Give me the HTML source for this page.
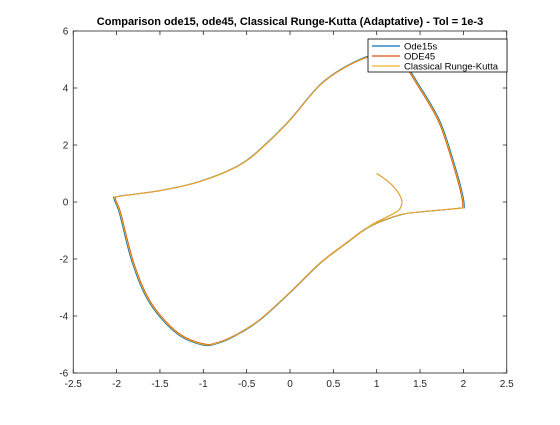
<!DOCTYPE html>
<html><head><meta charset="utf-8"><style>
body{margin:0;background:#fff;font-family:"Liberation Sans",sans-serif}
svg text{font-family:"Liberation Sans",sans-serif}
</style></head><body>
<svg id="chart" width="560" height="420" xmlns="http://www.w3.org/2000/svg">
<rect x="0" y="0" width="560" height="420" fill="#fff"/>
<text x="290" y="25" text-anchor="middle" font-size="11" font-weight="bold">Comparison ode15, ode45, Classical Runge-Kutta (Adaptative) - Tol = 1e-3</text>
<g id="plot"></g>
<g id="axes"></g>
<g>
<rect x="368" y="39" width="139" height="33" fill="#fff" stroke="#000" stroke-width="0.8"/>
<line x1="372" y1="46" x2="400" y2="46" stroke="#0072BD" stroke-width="1.2"/>
<text x="404" y="49.5" font-size="9.5">Ode15s</text>
<line x1="372" y1="56" x2="400" y2="56" stroke="#D95319" stroke-width="1.2"/>
<text x="404" y="59.5" font-size="9.5">ODE45</text>
<line x1="372" y1="66" x2="400" y2="66" stroke="#EDB120" stroke-width="1.2"/>
<text x="404" y="69.5" font-size="9.5">Classical Runge-Kutta</text>
</g>
</svg>
<script>
const xTicks=[-2.5,-2,-1.5,-1,-0.5,0,0.5,1,1.5,2,2.5];
const yTicks=[-6,-4,-2,0,2,4,6];
const transX=[1,1.12,1.22,1.28,1.29,1.25,1.1,0.92,0.66];
const transY=[1,0.75,0.45,0.15,-0.05,-0.3,-0.55,-0.84,-1.42];
const cycX=[0.35,0.03,-0.35,-0.63,-0.82,-1.0,-1.3,-1.61,-1.81,-1.96,-2.02,-1.97,-1.5,-1.04,-0.58,-0.29,0,0.38,0.81,1.04,1.27,1.5,1.73,1.9,1.98,2.0,1.95,1.5,1.27,0.92,0.66];
const cycY=[-2.14,-3.09,-4.14,-4.68,-4.93,-5.0,-4.6,-3.54,-2.14,-0.39,0.1,0.2,0.4,0.72,1.3,2.0,2.88,4.2,5.0,5.1,5.0,4.0,2.77,1.2,0.3,-0.15,-0.22,-0.35,-0.45,-0.86,-1.42];
const seriesNames=["ode15s","ode45","classical-rk"];
const seriesColors=["#0072BD","#D95319","#EDB120"];
const seriesShift=[0.0015,-0.0015,0];
const X=v=>290+86.7*v, Y=v=>202-28.5*v;
const NS="http://www.w3.org/2000/svg";
const plot=document.getElementById('plot'), axes=document.getElementById('axes');
function pathFor(s){
  const px=transX.slice(), py=transY.slice();
  for(let k=0;k<3;k++){for(let i=0;i<cycX.length;i++){px.push(cycX[i]*(1+s*(k+1)));py.push(cycY[i]*(1+s*(k+1)));}}
  px.push(cycX[0]);py.push(cycY[0]);
  const P=px.map((v,i)=>[X(v),Y(py[i])]);
  let d='M'+P[0][0]+','+P[0][1];
  for(let i=0;i<P.length-1;i++){
    const p0=P[Math.max(0,i-1)],p1=P[i],p2=P[i+1],p3=P[Math.min(P.length-1,i+2)];
    d+=' C'+(p1[0]+(p2[0]-p0[0])/6)+','+(p1[1]+(p2[1]-p0[1])/6)+' '+(p2[0]-(p3[0]-p1[0])/6)+','+(p2[1]-(p3[1]-p1[1])/6)+' '+p2[0]+','+p2[1];
  }
  return d;
}
seriesNames.forEach((n,i)=>{
  const p=document.createElementNS(NS,'path');
  
  
  p.setAttribute('d',pathFor(seriesShift[i]));
  p.setAttribute('fill','none');p.setAttribute('stroke',seriesColors[i]);p.setAttribute('stroke-width','0.9');
  plot.appendChild(p);
});
const box=document.createElementNS(NS,'rect');


box.setAttribute('x',X(-2.5));box.setAttribute('y',Y(6));box.setAttribute('width',X(2.5)-X(-2.5));box.setAttribute('height',Y(-6)-Y(6));
box.setAttribute('fill','none');box.setAttribute('stroke','#262626');box.setAttribute('stroke-width','0.8');
axes.appendChild(box);
xTicks.forEach(t=>{
  const l=document.createElementNS(NS,'path');
  
  
  l.setAttribute('d',`M${X(t)},${Y(-6)}v-4M${X(t)},${Y(6)}v4`);l.setAttribute('stroke','#262626');l.setAttribute('stroke-width','0.8');
  axes.appendChild(l);
  const tx=document.createElementNS(NS,'text');
  
  
  tx.setAttribute('x',X(t));tx.setAttribute('y',Y(-6)+14);tx.setAttribute('text-anchor','middle');tx.setAttribute('font-size','10');tx.setAttribute('fill','#262626');
  tx.textContent=String(t);axes.appendChild(tx);
});
yTicks.forEach(t=>{
  const l=document.createElementNS(NS,'path');
  
  
  l.setAttribute('d',`M${X(-2.5)},${Y(t)}h4M${X(2.5)},${Y(t)}h-4`);l.setAttribute('stroke','#262626');l.setAttribute('stroke-width','0.8');
  axes.appendChild(l);
  const tx=document.createElementNS(NS,'text');
  
  
  tx.setAttribute('x',X(-2.5)-5);tx.setAttribute('y',Y(t)+3.5);tx.setAttribute('text-anchor','end');tx.setAttribute('font-size','10');tx.setAttribute('fill','#262626');
  tx.textContent=String(t);axes.appendChild(tx);
});
</script>
</body></html>
